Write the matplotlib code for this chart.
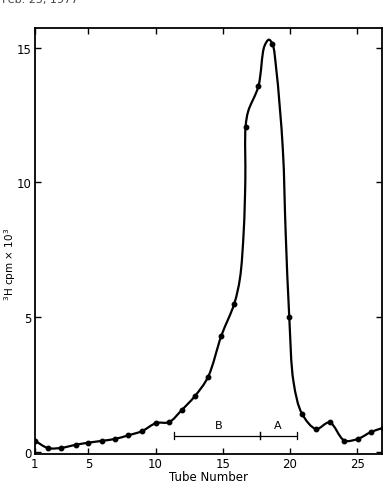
import numpy as np
import matplotlib
matplotlib.use('Agg')
import matplotlib.pyplot as plt
from matplotlib.path import Path
from matplotlib.patches import PathPatch

# ------------------------------------------------------------
# Data (tube position, 3H cpm x 10^3)
# ------------------------------------------------------------
tube = [1.0, 2.0, 3.0, 4.05, 5.0, 6.05, 7.0, 7.95, 9.0, 10.05,
        11.0, 11.95, 12.95, 13.9, 14.9, 15.85, 16.7, 17.65, 18.7,
        19.95, 20.9, 21.95, 22.95, 24.05, 25.05, 26.05, 26.95]
cpm = [0.44, 0.16, 0.17, 0.28, 0.36, 0.43, 0.50, 0.63, 0.79, 1.09,
       1.12, 1.57, 2.10, 2.79, 4.33, 5.50, 12.07, 13.56, 15.13,
       5.01, 1.43, 0.87, 1.11, 0.44, 0.50, 0.76, 0.91]

# extra points traced on the hand-drawn line (no dots there)
trace_tube = [16.28, 16.56, 16.68, 16.9, 18.1, 18.43, 18.98, 19.47, 19.68, 20.27]
trace_cpm = [6.45, 8.2, 10.1, 12.65, 15.05, 15.29, 14.2, 11.24, 8.16, 2.6]

# pooled fractions
pool_B = (11.35, 17.8)
pool_A = (17.8, 20.5)
pool_y = 0.62

xticks = [1, 5, 10, 15, 20, 25]
yticks = [0, 5, 10, 15]

# ------------------------------------------------------------
# smooth line: centripetal Catmull-Rom -> cubic Bezier path
# ------------------------------------------------------------
cx = np.array(tube + trace_tube)
cy = np.array(cpm + trace_cpm)
order = np.argsort(cx)
sx, sy = 13.47, 27.0          # px per data unit, keeps the curve shape isotropic
pts = np.column_stack([cx[order] * sx, cy[order] * sy])

verts = [pts[0]]
codes = [Path.MOVETO]
n = len(pts)
for i in range(n - 1):
    p1, p2 = pts[i], pts[i + 1]
    p0 = pts[i - 1] if i > 0 else 2 * p1 - p2
    p3 = pts[i + 2] if i + 2 < n else 2 * p2 - p1
    d0 = np.linalg.norm(p1 - p0) ** 0.5
    d1 = np.linalg.norm(p2 - p1) ** 0.5
    d2 = np.linalg.norm(p3 - p2) ** 0.5
    m1 = d1 * ((p1 - p0) / d0 - (p2 - p0) / (d0 + d1) + (p2 - p1) / d1)
    m2 = d1 * ((p2 - p1) / d1 - (p3 - p1) / (d1 + d2) + (p3 - p2) / d2)
    verts += [p1 + m1 / 3, p2 - m2 / 3, p2]
    codes += [Path.CURVE4] * 3
verts = np.array(verts) / np.array([sx, sy])

fig = plt.figure(figsize=(3.89, 4.89), dpi=100)
ax = fig.add_axes([0.089, 0.0695, 0.893, 0.871])

ax.add_patch(PathPatch(Path(verts, codes), facecolor='none',
                       edgecolor='black', lw=1.6, capstyle='round',
                       joinstyle='round'))
ax.plot(tube, cpm, 'o', color='black', ms=3.2)

# bars for pooled fractions
for (x0, x1) in (pool_B, pool_A):
    ax.plot([x0, x1], [pool_y, pool_y], color='black', lw=0.9)
    for xe in (x0, x1):
        ax.plot([xe, xe], [pool_y - 0.13, pool_y + 0.13], color='black', lw=0.9)
ax.text(np.mean(pool_B) + 0.1, pool_y + 0.22, 'B', ha='center', va='bottom', fontsize=8)
ax.text(np.mean(pool_A) - 0.05, pool_y + 0.22, 'A', ha='center', va='bottom', fontsize=8)

ax.set_xlim(1.0, 26.85)
ax.set_ylim(-0.06, 15.72)
ax.set_xticks(xticks)
ax.set_yticks(yticks)
ax.tick_params(direction='in', top=True, right=True, length=4, width=1.0,
               labelsize=8.5, pad=2)
for s in ax.spines.values():
    s.set_linewidth(1.3)

ax.set_xlabel('Tube Number', fontsize=8.5, labelpad=0)
fig.text(10 / 389, 1 - 264 / 489, r'$^3$H cpm $\times$ 10$^3$', fontsize=7.5,
         rotation=90, ha='center', va='center')

# clipped page header from the scan
fig.text(0.005, 1.0, 'Feb. 25, 1977', fontsize=8, color='#444444', va='center')

fig.savefig('out.png', dpi=100)
